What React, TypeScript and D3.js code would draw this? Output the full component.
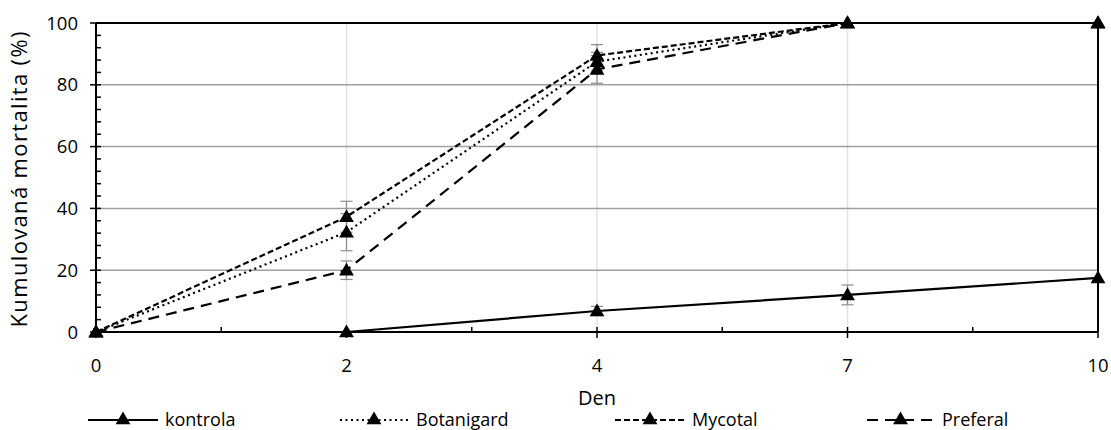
import React from "react";
import * as d3 from "d3";

const days = ["0", "2", "4", "7", "10"];
const yTicks = [0, 20, 40, 60, 80, 100];
const seriesNames = ["kontrola", "Botanigard", "Mycotal", "Preferal"];
const kontrola = [0, 0, 6.8, 12, 17.5];
const botanigard = [0, 32.3, 87.5, 100, 100];
const mycotal = [0, 37.3, 89.5, 100, 100];
const preferal = [0, 20, 85, 100, 100];
const kontrolaErr = [0, 0, 1.5, 3.2, 0];
const botanigardErr = [0, 6, 3, 0, 0];
const mycotalErr = [0, 5, 3.5, 0, 0];
const preferalErr = [0, 3, 4.5, 0, 0];

const W = 1111, H = 430;
const left = 96, right = 1098, top = 23, bottom = 332;
const FONT = "'Open Sans', sans-serif";

const dashes = [null, "2,3.5", "6,3", "11,7"];

export default function App() {
  const x = d3.scalePoint<string>().domain(days).range([left, right]);
  const y = d3.scaleLinear().domain([0, 100]).range([bottom, top]);
  const values = [kontrola, botanigard, mycotal, preferal];
  const errs = [kontrolaErr, botanigardErr, mycotalErr, preferalErr];
  const line = d3.line<number>().x((_, i) => x(days[i])!).y(d => y(d));
  const tri = d3.symbol().type(d3.symbolTriangle).size(95)()!;
  const minorY = d3.range(0, 101, 4);
  const midX = days.slice(0, -1).map((d, i) => (x(d)! + x(days[i + 1])!) / 2);

  const legendItems = [
    { x0: 88, x1: 158, tx: 165 },
    { x0: 340, x1: 408, tx: 416 },
    { x0: 615, x1: 685, tx: 692 },
    { x0: 867, x1: 934, tx: 942 },
  ];
  const ly = 420;

  return (
    <svg width={W} height={H} style={{ position: "absolute", left: 0, top: 0 }} fontFamily={FONT}>
      <rect width={W} height={H} fill="#fff" />
      {/* gridlines */}
      {days.slice(1, -1).map(d => (
        <line key={"vg" + d} x1={x(d)} x2={x(d)} y1={top} y2={bottom} stroke="#e2e2e2" strokeWidth={1.5} />
      ))}
      {yTicks.slice(1, -1).map(t => (
        <line key={"hg" + t} x1={left} x2={right} y1={y(t)} y2={y(t)} stroke="#a0a0a0" strokeWidth={1.5} />
      ))}
      {/* borders */}
      <line x1={left} x2={right} y1={top} y2={top} stroke="#000" strokeWidth={2} />
      <line x1={right} x2={right} y1={top} y2={bottom} stroke="#000" strokeWidth={2} />
      {/* y axis */}
      <line x1={left} x2={left} y1={top} y2={bottom} stroke="#000" strokeWidth={2} />
      {minorY.map(t => (
        <line key={"my" + t} x1={left} x2={left + 5} y1={y(t)} y2={y(t)} stroke="#000" strokeWidth={1.5} />
      ))}
      {yTicks.map(t => (
        <g key={"yt" + t}>
          <line x1={left - 6} x2={left} y1={y(t)} y2={y(t)} stroke="#000" strokeWidth={1.5} />
          <text x={left - 18} y={y(t)} dy="0.36em" textAnchor="end" fontSize={18.5} fill="#000">{t}</text>
        </g>
      ))}
      {/* x axis */}
      <line x1={left} x2={right} y1={bottom} y2={bottom} stroke="#000" strokeWidth={2} />
      {days.map(d => (
        <g key={"xt" + d}>
          <line x1={x(d)} x2={x(d)} y1={bottom - 5} y2={bottom + 6} stroke="#000" strokeWidth={1.5} />
          <text x={x(d)} y={bottom + 40} textAnchor="middle" fontSize={18.5} fill="#000">{d}</text>
        </g>
      ))}
      {midX.map((m, i) => (
        <line key={"mx" + i} x1={m} x2={m} y1={bottom - 5} y2={bottom} stroke="#000" strokeWidth={1.5} />
      ))}
      <text x={(left + right) / 2} y={405} textAnchor="middle" fontSize={20} fill="#000">Den</text>
      <text transform={`translate(27,${(top + bottom) / 2 + 2}) rotate(-90)`} textAnchor="middle" fontSize={22}
        textLength={296} lengthAdjust="spacing" fill="#000">
        Kumulovaná mortalita (%)
      </text>
      {/* error bars */}
      {values.map((vals, si) =>
        vals.map((v, i) => {
          const e = errs[si][i];
          if (!e) return null;
          const cx = x(days[i])!;
          return (
            <g key={"e" + si + "-" + i} stroke="#8c8c8c" strokeWidth={1.2}>
              <line x1={cx} x2={cx} y1={y(v - e)} y2={y(v + e)} />
              <line x1={cx - 6} x2={cx + 6} y1={y(v - e)} y2={y(v - e)} />
              <line x1={cx - 6} x2={cx + 6} y1={y(v + e)} y2={y(v + e)} />
            </g>
          );
        })
      )}
      {/* lines */}
      {values.map((vals, si) => (
        <path key={"l" + si} d={line(vals)!} fill="none" stroke="#000" strokeWidth={2.2}
          strokeDasharray={dashes[si] ?? undefined} />
      ))}
      {values.map((vals, si) =>
        vals.map((v, i) => (
          <path key={"m" + si + "-" + i} d={tri} transform={`translate(${x(days[i])},${y(v) + 1})`} fill="#000" />
        ))
      )}
      {/* legend */}
      {legendItems.map((li, i) => (
        <g key={"lg" + i}>
          <line x1={li.x0} x2={li.x1} y1={ly} y2={ly} stroke="#000" strokeWidth={2.2}
            strokeDasharray={dashes[i] ?? undefined} />
          <path d={tri} transform={`translate(${(li.x0 + li.x1) / 2},${ly})`} fill="#000" />
          <text x={li.tx} y={ly} dy="0.36em" fontSize={18} fill="#000">{seriesNames[i]}</text>
        </g>
      ))}
    </svg>
  );
}
